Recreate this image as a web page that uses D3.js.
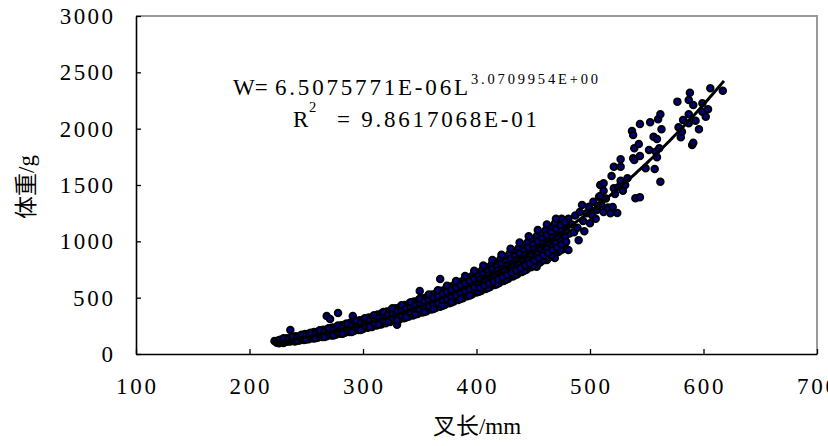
<!DOCTYPE html>
<html><head><meta charset="utf-8">
<script src="https://cdn.jsdelivr.net/npm/d3@7"></script>
<style>body{margin:0;background:#fff}svg{display:block}</style>
</head><body>
<svg id="chart" width="828" height="446"></svg>
<script>
// ---- data ----
const xTicks = [100, 200, 300, 400, 500, 600, 700];
const yTicks = [0, 500, 1000, 1500, 2000, 2500, 3000];
const xTitle = "叉长/mm";
const yTitle = "体重/g";
const fitA = 6.5075771e-6;
const fitB = 3.0709954;
const fitStart = 222, fitEnd = 619;
const eqLeft = "W=";
const eqCoef = "6.5075771E-06L";
const eqExp = "3.0709954E+00";
const r2Text = "= 9.8617068E-01";

// fork length (mm), body weight (g)
const points = [
[222,115],[224,100],[225,118],[226,96],[227,126],
[228,104],[229,120],[230,98],[230,132],
[232,108],[232,126],[233,140],[234,112],
[236,213],[236,110],[236,132],[237,150],[238,118],
[240,112],[240,140],[241,158],[242,125],
[244,120],[244,148],[245,165],[246,132],
[248,125],[248,155],[249,178],[250,138],
[252,132],[252,162],[253,185],[254,148],
[256,138],[256,170],[257,195],[258,152],
[260,145],[260,178],[261,205],[262,160],
[264,150],[264,188],[265,215],[266,168],
[268,158],[268,196],[268,337],[269,225],[270,176],
[271,311],[272,165],[272,205],[273,235],[274,184],
[276,172],[276,215],[277,245],[278,364],[278,192],
[280,180],[280,225],[281,255],[282,200],
[284,188],[284,235],[285,268],[286,210],
[288,196],[288,245],[289,280],[290,218],
[291,337],[292,205],[292,255],[293,290],[294,228],
[296,214],[296,266],[297,300],[298,240],
[300,222],[300,278],[301,312],[302,250],
[304,232],[304,288],[305,325],[306,260],
[308,240],[308,300],[309,338],[310,270],
[312,252],[312,312],[313,350],[314,282],
[316,262],[316,325],[317,365],[318,294],
[320,272],[320,338],[321,378],[322,305],
[324,284],[324,350],[325,392],[326,318],
[328,296],[328,365],[330,260],[329,405],[330,330],
[332,306],[332,378],[333,420],[334,342],
[336,318],[336,392],[337,435],[338,356],
[340,330],[340,406],[341,450],[342,370],
[344,342],[344,420],[345,465],[346,384],
[348,355],[348,436],[349,480],[350,560],[350,398],
[352,368],[352,450],[353,495],[354,412],
[356,380],[356,466],[357,512],[358,428],
[360,395],[360,482],[361,528],[362,442],
[364,408],[364,498],[365,545],[366,458],
[368,666],[368,420],[368,515],[369,562],[370,474],
[371,444],[372,436],[372,532],[373,580],[374,490],
[376,450],[376,550],[377,600],[378,506],
[380,465],[380,568],[381,620],[382,522],
[384,480],[384,586],[385,640],[386,540],
[388,495],[388,605],[389,660],[390,556],
[392,512],[392,625],[393,680],[394,524],[394,575],
[396,528],[396,645],[397,702],[398,594],
[400,545],[400,665],[401,722],[402,612],
[404,560],[404,686],[405,745],[406,632],
[408,578],[408,706],[409,768],[410,650],
[412,595],[412,728],[413,790],[414,670],
[416,612],[416,750],[417,815],[418,690],
[420,630],[420,772],[421,838],[422,712],
[424,648],[424,795],[425,862],[426,732],
[428,668],[428,818],[429,888],[430,752],
[431,745],[432,688],[432,842],[433,912],[434,775],
[436,708],[436,866],[437,938],[438,798],
[440,728],[440,890],[441,781],[441,965],[442,820],
[444,748],[444,915],[445,990],[446,842],
[448,770],[448,940],[449,1018],[450,866],
[452,790],[452,968],[453,775],[453,1045],[454,890],
[456,812],[456,995],[457,1072],[458,915],
[460,835],[460,1020],[461,1100],[462,834],[462,940],
[464,858],[464,1048],[465,1128],[466,965],
[468,880],[468,1075],[469,852],[469,1158],[470,990],
[472,905],[472,1105],[473,1188],[474,1015],
[475,1200],[476,930],[476,1135],[477,1040],
[481,1200],[481,923],[480,1160],[482,1070],
[484,1150],[486,1080],[487,1230],[489,1120],[490,1010],
[491,1260],[493,1322],[494,1180],[495,1090],[497,1250],
[499,1307],[500,1160],[502,1230],[503,1352],[505,1200],
[506,1278],[507,1314],[508,1396],[509,1500],[509,1402],
[510,1330],[512,1260],[512,1450],[512,1515],[514,1380],
[516,1300],[518,1249],[519,1580],[520,1305],[521,1471],
[521,1662],[522,1420],[524,1251],[525,1480],[527,1662],
[527,1538],[527,1728],[529,1450],[531,1500],[533,1560],
[537,1979],[538,1944],[540,1382],[544,1391],[539,1826],
[538,1737],[539,1722],[544,1757],[543,1864],[544,2041],
[549,1648],[552,1811],[553,2056],[556,1929],[557,1642],
[558,1796],[559,1908],[559,1746],[560,2083],[561,1826],
[562,2127],[562,1529],[563,1994],[577,2240],[578,2012],
[580,1923],[581,1973],[582,2077],[587,2254],[587,2127],
[587,2048],[588,2319],[590,1855],[591,1875],[591,2210],
[593,2071],[596,1994],[599,2225],[599,2151],[602,2106],
[604,2172],[606,2358],[617,2337],
// second pass through the dense band
[226,104],[226,121],[230,110],[230,124],[230,140],
[234,115],[234,131],[238,122],[238,137],[238,156],
[242,128],[242,146],[242,118],[246,135],[246,152],[246,170],
[250,142],[250,160],[250,128],[254,150],[254,168],[254,188],
[258,157],[258,176],[258,140],[262,164],[262,186],[262,210],
[266,172],[266,195],[266,150],[270,180],[270,204],[270,228],
[274,188],[274,212],[274,165],[278,196],[278,222],[278,252],
[282,206],[282,232],[282,180],[286,214],[286,242],[286,268],
[290,224],[290,252],[290,195],[294,234],[294,262],[294,292],
[298,244],[298,274],[298,212],[302,254],[302,286],[302,318],
[306,264],[306,298],[306,240],[310,275],[310,310],[310,345],
[314,286],[314,322],[314,262],[318,298],[318,336],[318,372],
[322,308],[322,348],[322,285],[326,322],[326,362],[326,405],
[330,334],[330,375],[330,300],[334,346],[334,390],[334,432],
[338,360],[338,404],[338,325],[342,372],[342,420],[342,460],
[346,386],[346,434],[346,350],[350,400],[350,450],[350,490],
[354,414],[354,466],[354,372],[358,428],[358,482],[358,528],
[362,444],[362,498],[362,400],[366,458],[366,516],[366,565],
[370,474],[370,534],[370,428],[374,490],[374,552],[374,605],
[378,506],[378,570],[378,458],[382,522],[382,590],[382,648],
[386,540],[386,608],[386,490],[390,558],[390,628],[390,692],
[394,575],[394,648],[394,520],[398,594],[398,668],[398,738],
[402,612],[402,688],[402,552],[406,630],[406,710],[406,785],
[410,650],[410,732],[410,585],[414,670],[414,755],[414,835],
[418,690],[418,776],[418,620],[422,710],[422,800],[422,880],
[426,730],[426,822],[426,660],[430,752],[430,846],[430,935],
[434,775],[434,870],[434,700],[438,796],[438,896],[438,990],
[442,820],[442,920],[442,740],[446,842],[446,946],[446,1045],
[450,866],[450,972],[450,780],[454,888],[454,1000],[454,1100],
[458,912],[458,1026],[458,830],[462,938],[462,1052],[462,1150],
[466,962],[466,1080],[466,875],[470,988],[470,1110],[470,1200],
[474,1015],[474,1140],[474,920],[478,1040],[478,1170],[478,980],
// third pass, middle of the band at the heavy end
[403,587],[403,660],[407,605],[407,668],[411,624],[411,700],
[415,643],[415,710],[419,662],[419,742],[423,681],[423,752],
[427,701],[427,785],[431,721],[431,796],[435,742],[435,832],
[439,763],[439,843],[443,785],[443,880],[447,806],[447,890],
[451,829],[451,930],[455,851],[455,940],[459,875],[459,980],
[463,899],[463,992],[467,923],[467,1035],[471,947],[471,1045],
[475,972],[475,1090],[479,997],[479,1100]
];

// ---- layout ----
const svg = d3.select("#chart");
const x = d3.scaleLinear().domain([100, 700]).range([136, 817]);
const y = d3.scaleLinear().domain([0, 3000]).range([354, 16]);
const numFont = "'Liberation Serif', 'Noto Sans CJK SC', serif";

// frame: top/right grey
svg.append("path")
  .attr("d", `M${x(100)},${y(3000)}H${x(700)}V${y(0)}`)
  .attr("fill", "none").attr("stroke", "#999").attr("stroke-width", 2);

// axes
const xAxis = d3.axisBottom(x).tickValues(xTicks).tickSizeInner(-5).tickSizeOuter(0).tickFormat("");
const yAxis = d3.axisLeft(y).tickValues(yTicks).tickSizeInner(-5).tickSizeOuter(0).tickFormat("");
const gx = svg.append("g").attr("transform", `translate(0,${y(0)})`).call(xAxis);
const gy = svg.append("g").attr("transform", `translate(${x(100)},0)`).call(yAxis);
[gx, gy].forEach(g => {
  g.select(".domain").attr("stroke", "#000").attr("stroke-width", 1.6);
  g.selectAll(".tick line").attr("stroke", "#000").attr("stroke-width", 1.3);
});

// tick labels
svg.append("g").selectAll("text").data(xTicks).join("text")
  .attr("x", d => x(d)).attr("y", 394)
  .attr("text-anchor", "middle")
  .attr("font-family", numFont).attr("font-size", 23)
  .attr("textLength", d => String(d).length * 13.3).attr("lengthAdjust", "spacing")
  .text(d => d);
svg.append("g").selectAll("text").data(yTicks).join("text")
  .attr("x", 113).attr("y", d => y(d) + 8)
  .attr("text-anchor", "end")
  .attr("font-family", numFont).attr("font-size", 23)
  .attr("textLength", d => String(d).length * 13.3).attr("lengthAdjust", "spacing")
  .text(d => d);

// axis titles
svg.append("text").attr("x", 477).attr("y", 434)
  .attr("text-anchor", "middle").attr("font-family", numFont).attr("font-size", 23)
  .text(xTitle);
svg.append("text").attr("transform", "translate(34,187) rotate(-90)")
  .attr("text-anchor", "middle").attr("font-family", numFont).attr("font-size", 23)
  .text(yTitle);

// scatter
svg.append("g").selectAll("circle").data(points).join("circle")
  .attr("cx", d => x(d[0])).attr("cy", d => y(d[1])).attr("r", 3.3)
  .attr("fill", "#000080").attr("stroke", "#000").attr("stroke-width", 1.9);

// power trend line
const fitL = d3.range(fitStart, fitEnd + 0.001, 2);
svg.append("path")
  .datum(fitL.map(L => [L, fitA * Math.pow(L, fitB)]))
  .attr("d", d3.line().x(d => x(d[0])).y(d => y(d[1])))
  .attr("fill", "none").attr("stroke", "#000").attr("stroke-width", 3);

// equation
const eq = svg.append("g").attr("font-family", numFont).attr("fill", "#000");
eq.append("text").attr("x", 233).attr("y", 95).attr("font-size", 23).text(eqLeft);
eq.append("text").attr("x", 275).attr("y", 95).attr("font-size", 23)
  .attr("textLength", 193).attr("lengthAdjust", "spacing").text(eqCoef);
eq.append("text").attr("x", 471).attr("y", 84).attr("font-size", 14.5)
  .attr("textLength", 127).attr("lengthAdjust", "spacing").text(eqExp);
eq.append("text").attr("x", 293).attr("y", 127).attr("font-size", 23).text("R");
eq.append("text").attr("x", 309).attr("y", 112).attr("font-size", 14.5).text("2");
eq.append("text").attr("x", 337).attr("y", 127).attr("font-size", 23)
  .attr("textLength", 200).attr("lengthAdjust", "spacing").text(r2Text);
</script>
</body></html>
